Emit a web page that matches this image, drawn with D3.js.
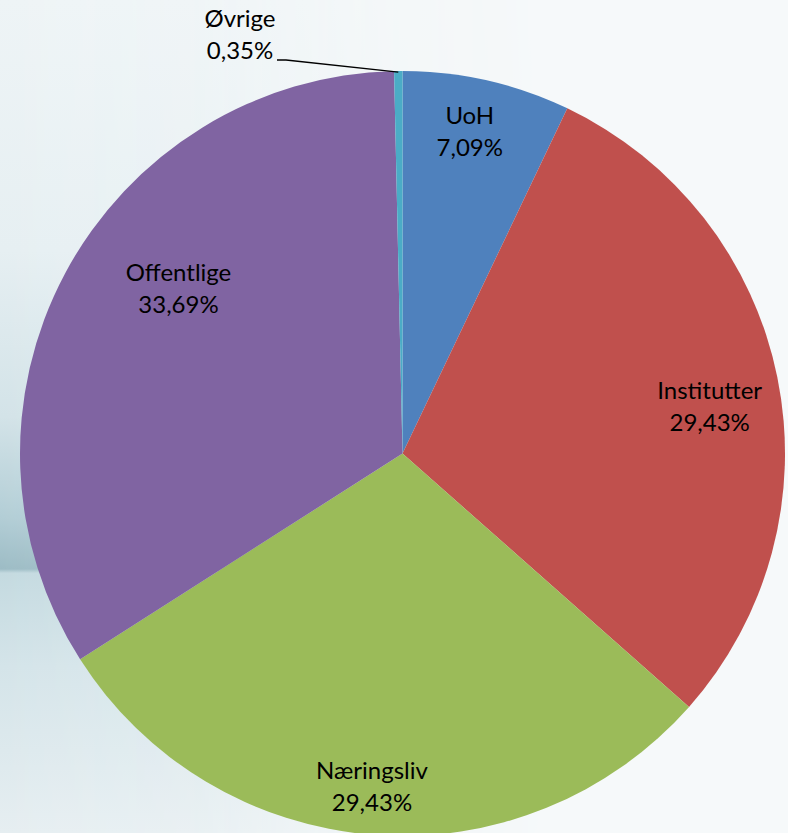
<!DOCTYPE html>
<html><head><meta charset="utf-8">
<script src="https://cdn.jsdelivr.net/npm/d3@7"></script>
<style>html,body{margin:0;padding:0;overflow:hidden;background:#f6f9fa}</style>
</head><body>
<script>
const categories = ["UoH", "Institutter", "Næringsliv", "Offentlige", "Øvrige"];
const values = [7.09, 29.43, 29.43, 33.69, 0.35];
const valueLabels = ["7,09%", "29,43%", "29,43%", "33,69%", "0,35%"];
const colors = ["#4F81BD", "#C0504D", "#9BBB59", "#8064A2", "#4BACC6"];

// layout for labels: radius and angle tweak (degrees) per slice
const labelLayout = [
  {r: 330, da: -1.0},
  {r: 311, da: 2.5},
  {r: 333, da: 0.8},
  {r: 279, da: 8.5},
  null
];

const W = 788, H = 833, cx = 402.5, cy = 453.5, R = 382.5;
const svg = d3.select("body").append("svg").attr("width", W).attr("height", H);
const defs = svg.append("defs");

const vg = defs.append("linearGradient").attr("id","vg").attr("x1",0).attr("y1",0).attr("x2",0).attr("y2",1);
[[0,"#eef4f6"],[0.3,"#e6eff2"],[0.5,"#d3e3e8"],[0.62,"#b3ced6"],[0.683,"#9dbcc5"],[0.688,"#c4dae0"],[0.8,"#d4e4e9"],[1,"#e6eef1"]]
  .forEach(s=>vg.append("stop").attr("offset",s[0]).attr("stop-color",s[1]));
const hg = defs.append("linearGradient").attr("id","hg").attr("x1",0).attr("y1",0).attr("x2",1).attr("y2",0);
[[0,"white",1],[0.25,"white",0.8],[0.5,"white",0.2],[0.7,"white",0]]
  .forEach(s=>hg.append("stop").attr("offset",s[0]).attr("stop-color",s[1]).attr("stop-opacity",s[2]));
defs.append("mask").attr("id","hm").append("rect").attr("width",W).attr("height",H).attr("fill","url(#hg)");

svg.append("rect").attr("width",W).attr("height",H).attr("fill","#f6f9fa");
svg.append("rect").attr("width",W).attr("height",H).attr("fill","url(#vg)").attr("mask","url(#hm)");

const pie = d3.pie().sort(null).value(d=>d)(values);
const arc = d3.arc().innerRadius(0).outerRadius(R);
const g = svg.append("g").attr("transform",`translate(${cx},${cy})`);
g.selectAll("path.slice").data(pie).join("path").attr("class","slice")
  .attr("d",arc).attr("fill",(d,i)=>colors[i]);

const font = "Lato, 'Open Sans', sans-serif";
const fs = 24;
pie.forEach((d,i)=>{
  const L = labelLayout[i];
  if(!L) return;
  const a = (d.startAngle+d.endAngle)/2 + L.da*Math.PI/180;
  const x = L.r*Math.sin(a), y = -L.r*Math.cos(a);
  const t = g.append("text").attr("text-anchor","middle").attr("font-family",font)
    .attr("font-size",fs).attr("fill","#000");
  t.append("tspan").attr("x",x).attr("y",y-6).text(categories[i]);
  t.append("tspan").attr("x",x).attr("y",y+26).text(valueLabels[i]);
});

// Øvrige label with leader line
const last = pie[4];
const am = (last.startAngle+last.endAngle)/2;
const px = R*Math.sin(am), py = -R*Math.cos(am);
const lx = 240 - cx, ly = 27 - cy;
const ot = g.append("text").attr("text-anchor","middle").attr("font-family",font)
  .attr("font-size",fs).attr("fill","#000");
ot.append("tspan").attr("x",lx).attr("y",ly).text(categories[4]);
ot.append("tspan").attr("x",lx).attr("y",ly+32).text(valueLabels[4]);
g.append("polyline").attr("points",[[lx+37,ly+33],[lx+46,ly+33],[px,py+1]].map(p=>p.join(",")).join(" "))
  .attr("fill","none").attr("stroke","#000").attr("stroke-width",1.3);
</script>
</body></html>
